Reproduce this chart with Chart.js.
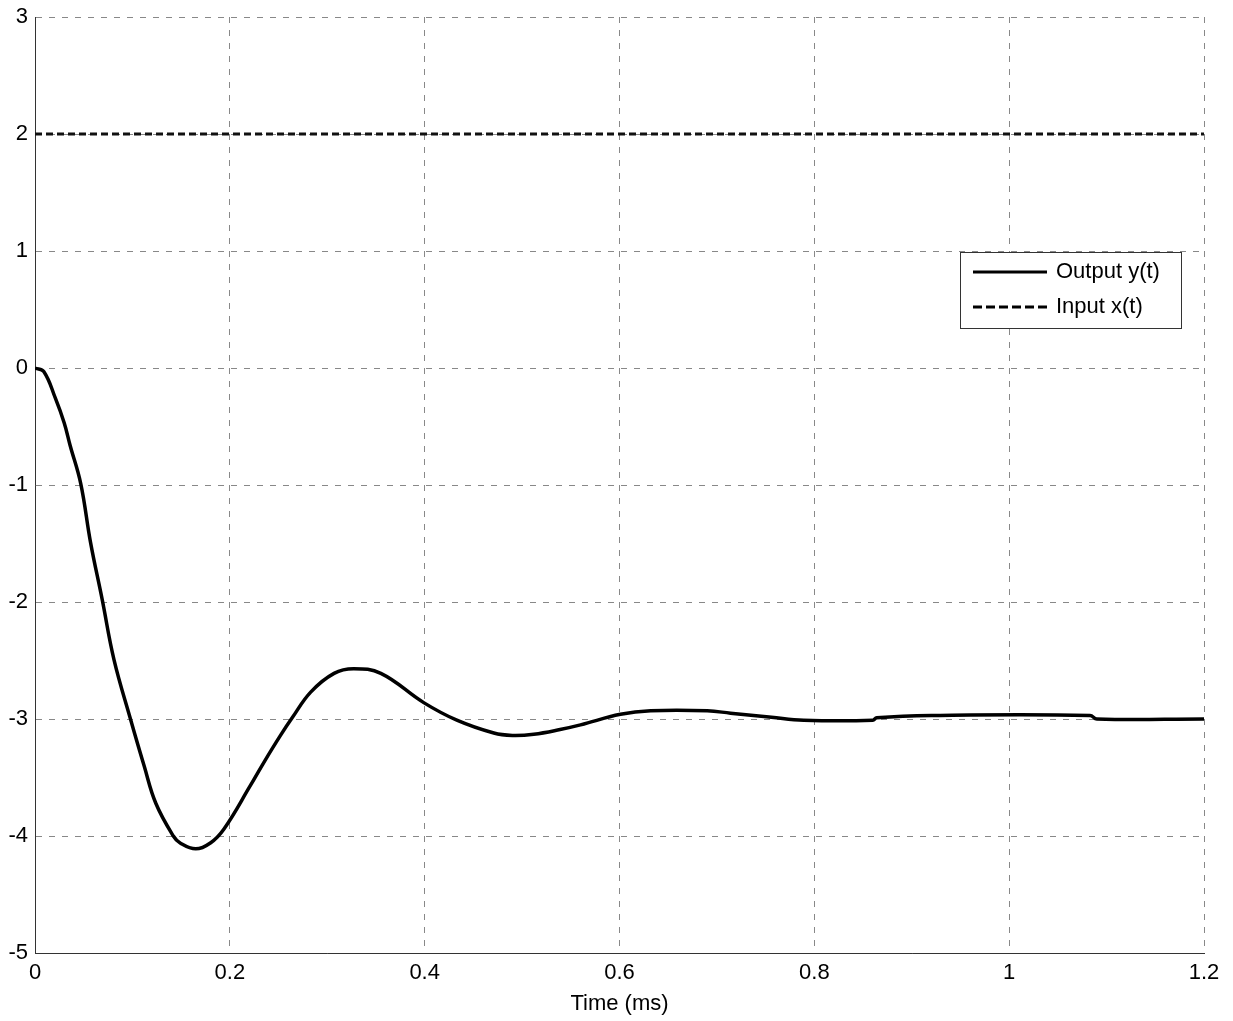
<!DOCTYPE html>
<html>
<head>
<meta charset="utf-8">
<script src="https://cdn.jsdelivr.net/npm/chart.js@4.4.0/dist/chart.umd.min.js"></script>
<style>
html,body{margin:0;padding:0;background:#fff;}
#wrap{width:1233px;height:1021px;}
</style>
</head>
<body>
<div id="wrap"><canvas id="c" width="1233" height="1021"></canvas></div>
<script>
// Data
const tOutput = [0, 0.009, 0.021, 0.030, 0.036, 0.047, 0.057, 0.069, 0.081, 0.098, 0.112, 0.124, 0.142, 0.149, 0.165, 0.180, 0.194, 0.221, 0.235, 0.252, 0.264, 0.283, 0.307, 0.327, 0.355, 0.399, 0.433, 0.471, 0.490, 0.512, 0.539, 0.560, 0.601, 0.632, 0.690, 0.714, 0.756, 0.789, 0.860, 0.864, 0.920, 1.083, 1.090, 1.200];
const yOutput = [0, -0.03, -0.26, -0.47, -0.66, -0.99, -1.49, -1.98, -2.49, -3.00, -3.40, -3.72, -4.00, -4.06, -4.11, -4.06, -3.94, -3.57, -3.37, -3.14, -2.99, -2.77, -2.61, -2.57, -2.61, -2.86, -3.01, -3.12, -3.14, -3.13, -3.09, -3.05, -2.96, -2.93, -2.93, -2.95, -2.985, -3.01, -3.01, -2.99, -2.97, -2.97, -3.00, -3.00];
const tInput = [0, 1.2];
const yInput = [2, 2];
const xTickLabels = ['0', '0.2', '0.4', '0.6', '0.8', '1', '1.2'];
const yTickLabels = ['-5', '-4', '-3', '-2', '-1', '0', '1', '2', '3'];
const seriesNames = ['Output y(t)', 'Input x(t)'];
const xTitle = 'Time (ms)';

const FONT = 'Liberation Sans, Arial, Helvetica, sans-serif';
const FS = 22;

const legendPlugin = {
  id: 'boxLegend',
  afterDraw(chart) {
    const ctx = chart.ctx;
    const x0 = 960, y0 = 252, w = 221, h = 76;
    ctx.save();
    ctx.fillStyle = '#fff';
    ctx.fillRect(x0, y0, w, h);
    ctx.strokeStyle = '#333';
    ctx.lineWidth = 1;
    ctx.setLineDash([]);
    ctx.strokeRect(x0 + 0.5, y0 + 0.5, w, h);
    const rows = [{y: 272, dash: []}, {y: 307, dash: [9, 4]}];
    rows.forEach((r, i) => {
      ctx.beginPath();
      ctx.setLineDash(r.dash);
      ctx.lineWidth = 3;
      ctx.strokeStyle = '#000';
      ctx.moveTo(973, r.y);
      ctx.lineTo(1047, r.y);
      ctx.stroke();
      ctx.setLineDash([]);
      ctx.fillStyle = '#000';
      ctx.font = FS + 'px ' + FONT;
      ctx.textBaseline = 'middle';
      ctx.textAlign = 'left';
      ctx.fillText(seriesNames[i], 1056, r.y);
    });
    ctx.restore();
  }
};

const bgPlugin = {
  id: 'bg',
  beforeDraw(chart) {
    const ctx = chart.ctx;
    ctx.save();
    ctx.fillStyle = '#fff';
    ctx.fillRect(0, 0, chart.width, chart.height);
    ctx.restore();
  }
};

new Chart(document.getElementById('c'), {
  type: 'scatter',
  data: {
    datasets: [
      {
        label: seriesNames[0],
        data: tOutput.map((t, i) => ({x: t, y: yOutput[i]})),
        showLine: true,
        borderColor: '#000',
        borderWidth: 3.5,
        pointRadius: 0,
        tension: 0.4,
        fill: false
      },
      {
        label: seriesNames[1],
        data: tInput.map((t, i) => ({x: t, y: yInput[i]})),
        showLine: true,
        borderColor: '#111',
        borderWidth: 3,
        borderDash: [7, 4],
        pointRadius: 0,
        fill: false
      }
    ]
  },
  options: {
    responsive: false,
    animation: false,
    layout: {padding: {left: 0, right: 29, top: 17, bottom: 0}},
    plugins: {legend: {display: false}, tooltip: {enabled: false}},
    scales: {
      x: {
        type: 'linear',
        min: 0, max: 1.2,
        ticks: {
          stepSize: 0.2,
          color: '#000',
          padding: 7,
          maxRotation: 0,
          font: {family: FONT, size: FS},
          callback: (v, i) => xTickLabels[i]
        },
        grid: {color: '#888', lineWidth: 1, drawTicks: false},
        border: {display: true, color: '#333', width: 1, dash: [6, 7]},
        title: {display: true, text: xTitle, color: '#000', font: {family: FONT, size: FS}, padding: {top: 0, bottom: 4}},
        afterFit(s) { s.height = 68; s.paddingLeft = 0; s.paddingRight = 0; }
      },
      y: {
        type: 'linear',
        min: -5, max: 3,
        ticks: {
          stepSize: 1,
          color: '#000',
          padding: 7,
          font: {family: FONT, size: FS},
          callback: (v, i) => yTickLabels[i]
        },
        grid: {color: '#888', lineWidth: 1, drawTicks: false},
        border: {display: true, color: '#333', width: 1, dash: [6, 7]},
        afterFit(s) { s.width = 35; s.paddingTop = 0; s.paddingBottom = 0; }
      }
    }
  },
  plugins: [bgPlugin, legendPlugin]
});
</script>
</body>
</html>
